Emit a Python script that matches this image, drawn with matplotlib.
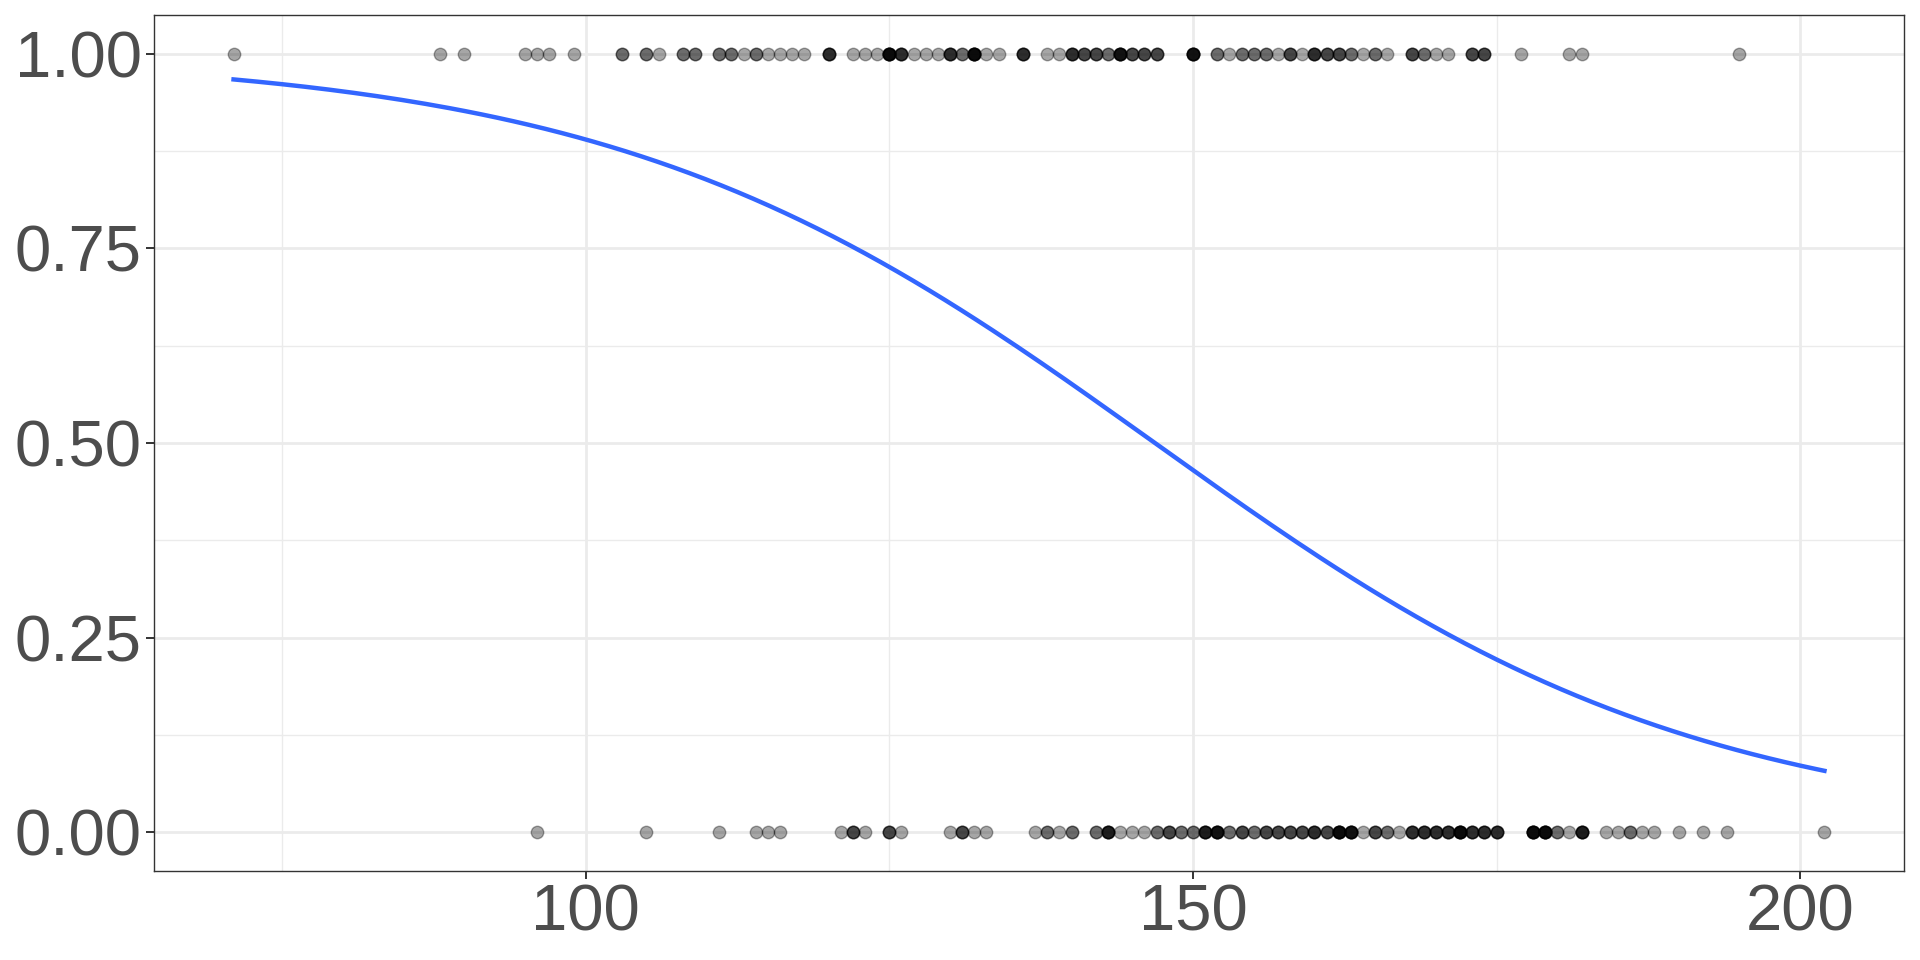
import numpy as np
import matplotlib
matplotlib.use("Agg")
import matplotlib.pyplot as plt
from matplotlib.ticker import MultipleLocator, FormatStrFormatter

# observed x values and how many points sit on each one (read from darkness)
x_one = [71, 88, 90, 95, 96, 97, 99, 103, 105, 106, 108, 109, 111, 112, 113, 114,
         115, 116, 117, 118, 120, 122, 123, 124, 125, 126, 127, 128, 129, 130, 131,
         132, 133, 134, 136, 138, 139, 140, 141, 142, 143, 144, 145, 146, 147, 150,
         152, 153, 154, 155, 156, 157, 158, 159, 160, 161, 162, 163, 164, 165, 166,
         168, 169, 170, 171, 173, 174, 177, 181, 182, 195]
n_one = [1, 1, 1, 1, 1, 1, 1, 2, 2, 1, 2, 2, 2, 2, 1, 2,
         1, 1, 1, 1, 4, 1, 1, 1, 7, 4, 1, 1, 1, 4, 2,
         7, 1, 1, 4, 1, 1, 4, 3, 3, 2, 6, 3, 3, 3, 6,
         2, 1, 2, 2, 2, 1, 3, 1, 4, 3, 3, 2, 1, 2, 1,
         3, 2, 1, 1, 3, 3, 1, 1, 1, 1]

x_zero = [96, 105, 111, 114, 115, 116, 121, 122, 123, 125, 126, 130, 131, 132, 133,
          137, 138, 139, 140, 142, 143, 144, 145, 146, 147, 148, 149, 150, 151, 152,
          153, 154, 155, 156, 157, 158, 159, 160, 161, 162, 163, 164, 165, 166, 167,
          168, 169, 170, 171, 172, 173, 174, 175, 178, 179, 180, 181, 182, 184, 185,
          186, 187, 188, 190, 192, 194, 202]
n_zero = [1, 1, 1, 1, 1, 1, 1, 3, 1, 3, 1, 1, 3, 1, 1,
          1, 2, 1, 2, 2, 5, 1, 1, 1, 2, 3, 2, 2, 5, 6,
          2, 3, 2, 3, 3, 3, 3, 4, 3, 7, 6, 1, 3, 2, 1,
          4, 4, 4, 4, 7, 4, 4, 4, 7, 7, 2, 1, 5, 1, 1,
          2, 1, 1, 1, 1, 1, 1]

x = np.concatenate([np.repeat(x_one, n_one), np.repeat(x_zero, n_zero)]).astype(float)
y = np.concatenate([np.ones(sum(n_one)), np.zeros(sum(n_zero))])

# logistic regression by IRLS (glm, binomial)
X = np.column_stack([np.ones_like(x), x])
beta = np.zeros(2)
for _ in range(50):
    p = 1 / (1 + np.exp(-X @ beta))
    w = p * (1 - p)
    z = X @ beta + (y - p) / w
    beta = np.linalg.solve(X.T @ (X * w[:, None]), X.T @ (w * z))

xs = np.linspace(x.min(), x.max(), 200)
ps = 1 / (1 + np.exp(-(beta[0] + beta[1] * xs)))

plt.rcParams['font.family'] = ['Liberation Sans', 'DejaVu Sans']
fig = plt.figure(figsize=(19.2, 9.6), dpi=100)
ax = fig.add_axes([154 / 1920, 1 - 871 / 960, 1750 / 1920, 856 / 960])

ax.scatter(x, y, s=80, color='black', alpha=0.35, edgecolors='black', linewidths=1.0, zorder=3)
ax.plot(xs, ps, color='#3366FF', lw=3.2, zorder=4)

span = x.max() - x.min()
ax.set_xlim(x.min() - 0.05 * span, x.max() + 0.05 * span)
ax.set_ylim(-0.05, 1.05)
ax.xaxis.set_major_locator(MultipleLocator(50))
ax.xaxis.set_minor_locator(MultipleLocator(25))
ax.yaxis.set_major_locator(MultipleLocator(0.25))
ax.yaxis.set_minor_locator(MultipleLocator(0.125))
ax.yaxis.set_major_formatter(FormatStrFormatter('%.2f'))

ax.grid(True, which='major', color='#EBEBEB', lw=2.0, zorder=0)
ax.grid(True, which='minor', color='#EBEBEB', lw=1.0, zorder=0)
ax.set_axisbelow(True)
for s in ax.spines.values():
    s.set_color('#333333')
    s.set_linewidth(1.0)
ax.tick_params(which='major', length=6, width=1.4, color='#333333', labelsize=47,
               labelcolor='#4D4D4D', pad=3)
ax.tick_params(which='minor', length=0)

fig.savefig('out.png', dpi=100)
